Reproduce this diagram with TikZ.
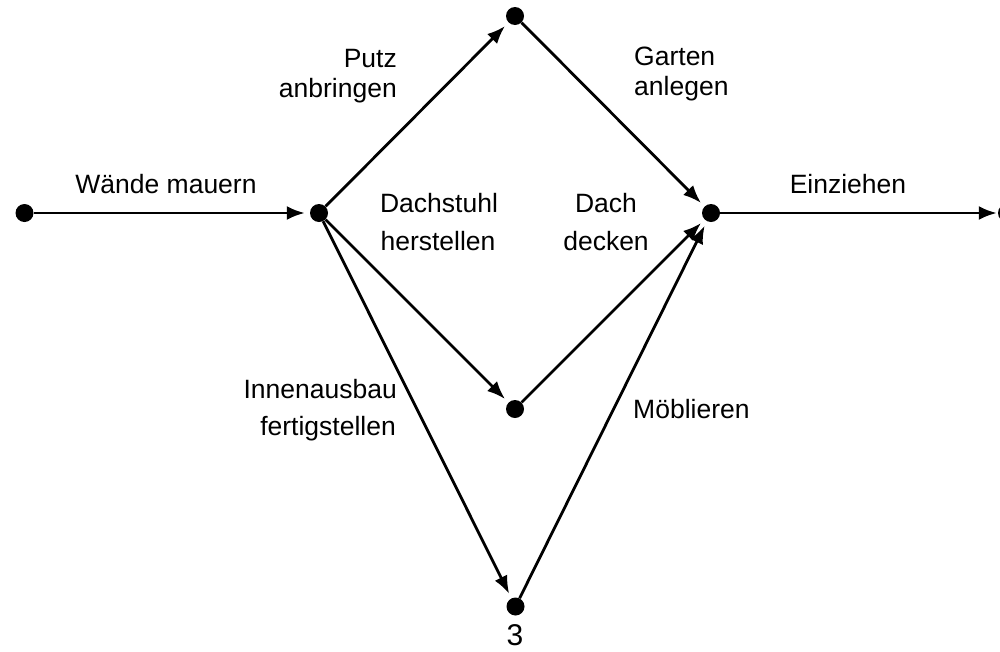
\documentclass[tikz,border=0pt]{standalone}
\usepackage{fontspec}
\setmainfont{Liberation Sans}
\usetikzlibrary{arrows.meta}
\begin{document}
\begin{tikzpicture}[x=1pt,y=-1pt,
  dot/.style={circle,fill=black,inner sep=0pt,minimum size=18pt},
  edge/.style={line width=2.8pt,-{Latex[length=18pt,width=14pt]},shorten >=5pt},
  lbl/.style={inner sep=0pt,font=\fontsize{26.5}{31}\selectfont}]
\useasboundingbox (0,0) rectangle (1000,651);
\begin{scope}
\clip (0,0) rectangle (1000,651);
\node[dot] (L) at (24.5,213) {};
\node[dot] (A) at (319,213) {};
\node[dot] (T) at (515,16) {};
\node[dot] (M) at (515,409) {};
\node[dot] (B) at (515.5,606.5) {};
\node[dot] (R) at (711,213) {};
\node[dot] (E) at (1007,213) {};
\draw[edge] (L) -- (A);
\draw[edge] (A) -- (T);
\draw[edge] (A) -- (M);
\draw[edge] (A) -- (B);
\draw[edge] (T) -- (R);
\draw[edge] (M) -- (R);
\draw[edge] (B) -- (R);
\draw[edge,shorten >=1pt] (R) -- (E);
\end{scope}
\node[lbl,anchor=base] (l1) at (166,193) {Wände mauern};
\node[lbl,anchor=base east] (l2a) at (397,67) {Putz};
\node[lbl,anchor=base east] (l2b) at (397,97) {anbringen};
\node[lbl,anchor=base west] (l3a) at (634,65) {Garten};
\node[lbl,anchor=base west] (l3b) at (634,95) {anlegen};
\node[lbl,anchor=base] (l4a) at (439,212) {Dachstuhl};
\node[lbl,anchor=base] (l4b) at (438,250) {herstellen};
\node[lbl,anchor=base] (l5a) at (606,212) {Dach};
\node[lbl,anchor=base] (l5b) at (606,250) {decken};
\node[lbl,anchor=base] (l6) at (848,193) {Einziehen};
\node[lbl,anchor=base east] (l7a) at (397,398) {Innenausbau};
\node[lbl,anchor=base east] (l7b) at (396,435) {fertigstellen};
\node[lbl,anchor=base west] (l8) at (633,418) {Möblieren};
\node[lbl,anchor=base,font=\fontsize{30}{36}\selectfont] (l9) at (515,645) {3};
\end{tikzpicture}
\end{document}
